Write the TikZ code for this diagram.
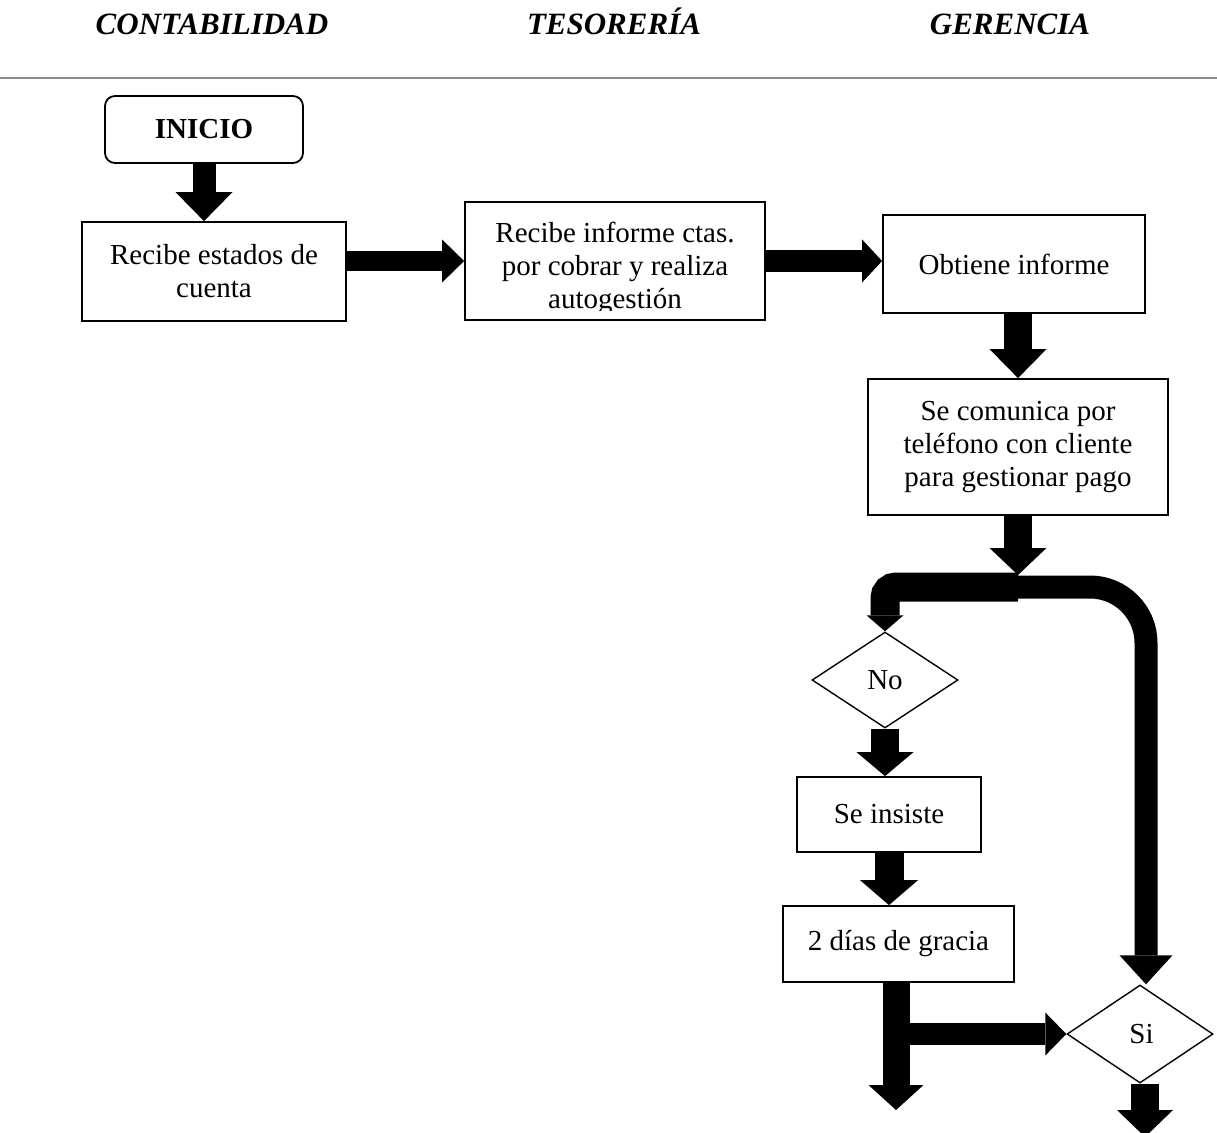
\documentclass[tikz,border=0pt]{standalone}
\usepackage{fontspec}
\setmainfont{Liberation Serif}
\usetikzlibrary{arrows.meta,shapes.geometric,calc}
\definecolor{rulegray}{HTML}{8C8C8C}

\begin{document}
\begin{tikzpicture}[x=1pt,y=-1pt,
  every node/.style={font=\fontsize{29}{33}\selectfont},
  stepbox/.style={draw,line width=1.8pt,inner sep=0pt,align=center},
  decision/.style={draw,diamond,line width=1.4pt,inner sep=0pt,aspect=1.5,
                   minimum width=146pt,minimum height=96pt},
  lane/.style={font=\bfseries\itshape\fontsize{31}{36}\selectfont,anchor=base},
  blockarrow/.style n args={3}{line width=#1pt,
     -{Triangle[width=#2pt,length=#3pt,line width=0pt]}},
]
\useasboundingbox (0,0) rectangle (1217,1132);

% swimlane headings
\node[lane] (contab) at (212,35) {CONTABILIDAD};
\node[lane] (tesor)  at (614,35) {TESORERÍA};
\node[lane] (geren)  at (1010,35) {GERENCIA};
\draw[rulegray,line width=1.5pt] (0,78) -- (1217,78);

% process steps
\node[stepbox,rounded corners=10pt,minimum width=198pt,minimum height=67pt,
      font=\bfseries\fontsize{29}{33}\selectfont] (inicio) at (204,129.5) {INICIO};
\node[stepbox,minimum width=264pt,minimum height=99pt] (recibe) at (214,271.5)
      {Recibe estados de\\cuenta};
\node[stepbox,minimum width=300pt,minimum height=118pt] (informe) at (615,261) {};
\begin{scope}
  % the text frame cuts off the last line's descenders
  \clip (informe.north west) rectangle ($(informe.south east)+(0,-10)$);
  \node[align=center] (informetxt) at (615,268)
      {Recibe informe ctas.\\por cobrar y realiza\\autogestión};
\end{scope}
\node[stepbox,minimum width=262pt,minimum height=98pt] (obtiene) at (1014,264)
      {Obtiene informe};
\node[stepbox,minimum width=300pt,minimum height=136pt] (comunica) at (1018,447)
      {Se comunica por\\teléfono con cliente\\para gestionar pago};
\node[decision] (no) at (885,680) {\raisebox{-3pt}{No}};
\node[stepbox,minimum width=184pt,minimum height=75pt] (insiste) at (889,814.5)
      {Se insiste};
\node[stepbox,minimum width=231pt,minimum height=76pt] (dias) at (898.5,944)
      {2 días de gracia};
\node[decision,minimum height=98pt] (si) at (1140,1034) {\hspace{3pt}Si};

% branch points and open ends
\coordinate (split) at (1018,587);
\coordinate (splittop) at (1018,575);
\coordinate (sientry) at ($(si.north)+(6,0)$);
\coordinate (out1) at (896,1110);
\coordinate (out2) at (1145,1137);

% block arrows
\draw[blockarrow={23}{57}{29}] (inicio.south) -- (inicio.south |- recibe.north);
\draw[blockarrow={20}{43}{22}] (recibe.east |- informe.west) -- (informe.west);
\draw[blockarrow={22}{43}{20}] (informe.east) -- (obtiene.west |- informe.east);
\draw[blockarrow={28}{57}{29}] (comunica.north |- obtiene.south) -- (comunica.north);
\draw[blockarrow={28}{57}{27}] (comunica.south) -- (splittop);
\draw[blockarrow={29}{37}{16},rounded corners=11pt]
      (split) -- (no.north |- split) -- (no.north);
\draw[blockarrow={23}{53}{29},rounded corners=56pt]
      (split) -- (sientry |- split) -- (sientry);
\draw[blockarrow={28}{57}{24}] (no.south) -- (no.south |- insiste.north);
\draw[blockarrow={29}{58}{25}] (insiste.south) -- (insiste.south |- dias.north);
\draw[blockarrow={27}{55}{25}] (dias.south -| out1) -- (out1);
\draw[blockarrow={22}{43}{21}] (out1 |- si.west) -- (si.west);
\draw[blockarrow={28}{56}{27}] (si.south -| out2) -- (out2);
\end{tikzpicture}
\end{document}
